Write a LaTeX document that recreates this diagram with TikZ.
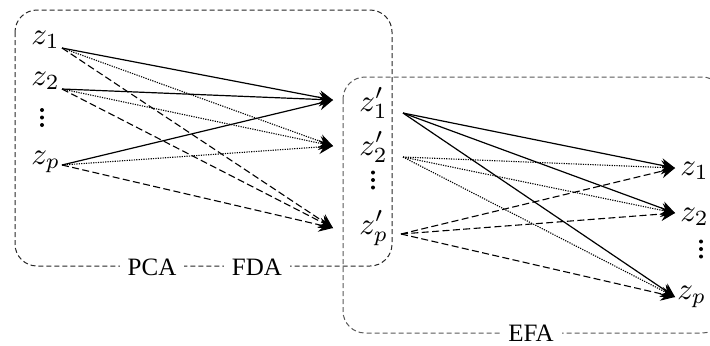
\documentclass[tikz,border=0pt]{standalone}
\usepackage{graphicx}
\usepackage{fontspec}
\newfontfamily\labelfont{Liberation Serif}
\usetikzlibrary{arrows.meta}
\newcommand{\varmath}[1]{\scalebox{1.55}{$#1$}}
\tikzset{
  var/.style={inner sep=0pt, anchor=base west},
  vdot/.style={circle, fill=black, inner sep=0pt, minimum size=2pt},
  grp/.style={line width=0.5pt, dash pattern=on 2.5pt off 1.5pt, rounded corners=11pt},
  glabel/.style={fill=white, inner xsep=4pt, inner ysep=1pt, font=\labelfont\fontsize{12.5}{14}\selectfont},
  con/.style={-{Stealth[length=7pt,width=7pt,inset=2.5pt]}, line width=0.6pt},
  sol/.style={con},
  dot/.style={con, line width=0.55pt, dash pattern=on 0.6pt off 0.6pt},
  dsh/.style={con, line width=0.55pt, dash pattern=on 3.5pt off 1.7pt},
}
\begin{document}
\begin{tikzpicture}[x=0.5pt,y=-0.5pt]
\clip (0,0) rectangle (710,345);
\useasboundingbox (0,0) rectangle (710,345);
% group boxes
\draw[grp, black!85] (15,10) rectangle (392,266);
\draw[grp, black!65] (343,77) rectangle (724,333);
\node[glabel] (pca) at (152,267) {PCA};
\node[glabel] (fda) at (257,267) {FDA};
\node[glabel] (efa) at (531,333) {EFA};
% left variables
\node[var] (z1) at (31,44) {\varmath{z_1}};
\node[var] (z2) at (31,85) {\varmath{z_2}};
\node[vdot] (zda) at (42,110) {};
\node[vdot] (zdb) at (42,117.5) {};
\node[vdot] (zdc) at (42,125) {};
\node[var] (zp) at (31,164) {\varmath{z_p}};
% middle variables
\node[var] (m1) at (359,111) {\varmath{z'_1}};
\node[var] (m2) at (359,155) {\varmath{z'_2}};
\node[vdot] (mda) at (373,172.5) {};
\node[vdot] (mdb) at (373,180) {};
\node[vdot] (mdc) at (373,187.5) {};
\node[var] (mp) at (359,234) {\varmath{z'_p}};
% right variables
\node[var] (r1) at (680,175) {\varmath{z_1}};
\node[var] (r2) at (680,221) {\varmath{z_2}};
\node[vdot] (rda) at (701,241.5) {};
\node[vdot] (rdb) at (701,249) {};
\node[vdot] (rdc) at (701,256.5) {};
\node[var] (rp) at (677,299) {\varmath{z_p}};
% connector ends
\coordinate (a1) at (62,48);
\coordinate (a2) at (62,89);
\coordinate (ap) at (62,165);
\coordinate (b1) at (333,100);
\coordinate (b2) at (333,146);
\coordinate (bp) at (333,228);
\coordinate (c1) at (403,113);
\coordinate (c2) at (403,157);
\coordinate (cp) at (401,234);
\coordinate (d1) at (675,168);
\coordinate (d2) at (675,213);
\coordinate (dp) at (675,297);
% left connectors
\draw[sol] (a1) -- (b1);
\draw[sol] (a2) -- (b1);
\draw[sol] (ap) -- (b1);
\draw[dot] (a1) -- (b2);
\draw[dot] (a2) -- (b2);
\draw[dot] (ap) -- (b2);
\draw[dsh] (a1) -- (bp);
\draw[dsh] (a2) -- (bp);
\draw[dsh] (ap) -- (bp);
% right connectors
\draw[sol] (c1) -- (d1);
\draw[sol] (c1) -- (d2);
\draw[sol] (c1) -- (dp);
\draw[dot] (c2) -- (d1);
\draw[dot] (c2) -- (d2);
\draw[dot] (c2) -- (dp);
\draw[dsh] (cp) -- (d1);
\draw[dsh] (cp) -- (d2);
\draw[dsh] (cp) -- (dp);
\end{tikzpicture}
\end{document}
